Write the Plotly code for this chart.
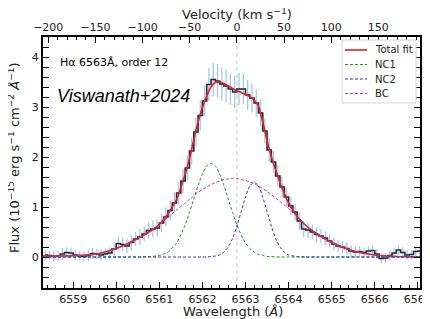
import plotly.graph_objects as go

# ---------------- data ----------------
wave_obs = [6558.35, 6558.45, 6558.55, 6558.65, 6558.75, 6558.85, 6558.95, 6559.05, 6559.15, 6559.25,
            6559.35, 6559.45, 6559.55, 6559.65, 6559.75, 6559.85, 6559.95, 6560.05, 6560.15, 6560.25,
            6560.35, 6560.45, 6560.55, 6560.65, 6560.75, 6560.85, 6560.95, 6561.05, 6561.15, 6561.25,
            6561.35, 6561.45, 6561.55, 6561.65, 6561.75, 6561.85, 6561.95, 6562.05, 6562.15, 6562.25,
            6562.35, 6562.45, 6562.55, 6562.65, 6562.75, 6562.85, 6562.95, 6563.05, 6563.15, 6563.25,
            6563.35, 6563.45, 6563.55, 6563.65, 6563.75, 6563.85, 6563.95, 6564.05, 6564.15, 6564.25,
            6564.35, 6564.45, 6564.55, 6564.65, 6564.75, 6564.85, 6564.95, 6565.05, 6565.15, 6565.25,
            6565.35, 6565.45, 6565.55, 6565.65, 6565.75, 6565.85, 6565.95, 6566.05, 6566.15, 6566.25,
            6566.35, 6566.45, 6566.55, 6566.65, 6566.75, 6566.85, 6566.95, 6567.05]
flux_obs = [0.04, 0.03, 0.01, 0.02, 0.06, 0.09, 0.08, 0.04, 0.02, 0.01,
            0.03, 0.07, 0.06, 0.04, 0.06, 0.08, 0.16, 0.27, 0.25, 0.22,
            0.29, 0.36, 0.40, 0.46, 0.53, 0.56, 0.58, 0.68, 0.80, 0.93,
            1.08, 1.28, 1.52, 1.78, 2.12, 2.50, 2.83, 3.12, 3.45, 3.55,
            3.52, 3.46, 3.42, 3.36, 3.30, 3.36, 3.36, 3.24, 3.18, 3.08,
            2.88, 2.52, 2.14, 1.90, 1.62, 1.40, 1.20, 1.02, 0.90, 0.72,
            0.56, 0.54, 0.50, 0.45, 0.42, 0.38, 0.32, 0.26, 0.22, 0.20,
            0.17, 0.12, 0.10, 0.11, 0.09, 0.12, 0.13, 0.06, -0.03, -0.02,
            0.03, 0.08, 0.14, 0.09, 0.04, 0.05, 0.11, 0.12]
flux_err = [0.10, 0.09, 0.10, 0.11, 0.12, 0.10, 0.11, 0.10, 0.09, 0.10,
            0.12, 0.11, 0.10, 0.11, 0.12, 0.12, 0.13, 0.14, 0.13, 0.14,
            0.15, 0.14, 0.16, 0.15, 0.16, 0.17, 0.17, 0.18, 0.19, 0.20,
            0.21, 0.22, 0.24, 0.25, 0.27, 0.28, 0.30, 0.31, 0.33, 0.34,
            0.34, 0.33, 0.33, 0.32, 0.32, 0.32, 0.31, 0.30, 0.29, 0.28,
            0.27, 0.25, 0.24, 0.22, 0.21, 0.20, 0.19, 0.18, 0.17, 0.17,
            0.16, 0.16, 0.15, 0.15, 0.14, 0.14, 0.13, 0.13, 0.12, 0.12,
            0.12, 0.11, 0.11, 0.11, 0.10, 0.10, 0.10, 0.10, 0.10, 0.09,
            0.10, 0.10, 0.09, 0.10, 0.10, 0.09, 0.10, 0.10]

wave_fit = [6558.3, 6558.8, 6559.3, 6559.6, 6560.0, 6560.3, 6560.6, 6560.8, 6561.0, 6561.2,
            6561.4, 6561.6, 6561.7, 6561.8, 6561.9, 6562.0, 6562.1, 6562.2, 6562.3, 6562.4,
            6562.5, 6562.6, 6562.7, 6562.8, 6562.9, 6563.0, 6563.1, 6563.2, 6563.3, 6563.4,
            6563.5, 6563.6, 6563.7, 6563.8, 6563.9, 6564.0, 6564.2, 6564.4, 6564.7, 6565.0,
            6565.3, 6565.6, 6566.0, 6566.5, 6567.1]
total_fit = [0.02, 0.02, 0.04, 0.07, 0.17, 0.28, 0.42, 0.52, 0.65, 0.86,
             1.15, 1.66, 1.97, 2.35, 2.70, 2.99, 3.22, 3.40, 3.49, 3.50,
             3.47, 3.42, 3.37, 3.32, 3.29, 3.25, 3.21, 3.14, 3.02, 2.70,
             2.33, 2.01, 1.74, 1.49, 1.27, 1.08, 0.81, 0.63, 0.44, 0.29,
             0.18, 0.10, 0.04, 0.01, 0.00]
nc1 = [0.00, 0.00, 0.00, 0.00, 0.00, 0.00, 0.00, 0.01, 0.03, 0.10,
       0.28, 0.64, 0.89, 1.16, 1.43, 1.66, 1.82, 1.87, 1.82, 1.66,
       1.43, 1.16, 0.89, 0.64, 0.44, 0.28, 0.17, 0.10, 0.05, 0.03,
       0.01, 0.01, 0.00, 0.00, 0.00, 0.00, 0.00, 0.00, 0.00, 0.00,
       0.00, 0.00, 0.00, 0.00, 0.00]
nc2 = [0.00, 0.00, 0.00, 0.00, 0.00, 0.00, 0.00, 0.00, 0.00, 0.00,
       0.00, 0.00, 0.00, 0.00, 0.00, 0.00, 0.00, 0.01, 0.02, 0.04,
       0.10, 0.20, 0.37, 0.62, 0.91, 1.20, 1.42, 1.50, 1.42, 1.20,
       0.91, 0.62, 0.37, 0.20, 0.10, 0.04, 0.01, 0.00, 0.00, 0.00,
       0.00, 0.00, 0.00, 0.00, 0.00]
bc = [0.01, 0.02, 0.04, 0.07, 0.17, 0.28, 0.42, 0.53, 0.65, 0.79,
      0.94, 1.08, 1.15, 1.22, 1.29, 1.35, 1.40, 1.45, 1.49, 1.52,
      1.55, 1.56, 1.57, 1.57, 1.55, 1.53, 1.50, 1.47, 1.42, 1.37,
      1.31, 1.25, 1.18, 1.11, 1.04, 0.97, 0.81, 0.63, 0.44, 0.29,
      0.18, 0.10, 0.04, 0.01, 0.00]

legend_names = ["Total fit", "NC1", "NC2", "BC"]

line_center = 6562.8
wave_range = [6558.3, 6567.05]
C_KMS = 299792.458
vel_range = [(w - line_center) / line_center * C_KMS for w in wave_range]

FONT = "DejaVu Sans"
OFF = 8                      # page body margin offset
W, H = 422, 311
ML, MR, MT, MB = 35, 10, 29, 31
PW, PH = W - ML - MR, H - MT - MB


def px(xp):
    """page x pixel -> paper coordinate"""
    return (xp - OFF - ML) / PW


def py(yp):
    """page y pixel -> paper coordinate"""
    return (H - MB - (yp - OFF)) / PH


COLORS = {"Total fit": "#e41e26", "NC1": "#1f8f1f", "NC2": "#2a2ad0", "BC": "#c030c0"}
DASH = "3px,2px"

fig = go.Figure()

# error bars (behind the data line)
fig.add_trace(go.Scatter(
    x=wave_obs, y=flux_obs, mode="markers",
    marker=dict(size=1, color="rgba(0,0,0,0)"),
    error_y=dict(type="data", array=flux_err, color="#9fc5df", thickness=1.2, width=0),
    showlegend=False, hoverinfo="skip"))
# observed spectrum (steps-mid)
fig.add_trace(go.Scatter(
    x=wave_obs, y=flux_obs, mode="lines",
    line=dict(color="#1d2b36", width=1.6, shape="hvh"),
    showlegend=False))
# fit and components
fig.add_trace(go.Scatter(x=wave_fit, y=total_fit, mode="lines", name="Total fit", showlegend=False,
                         line=dict(color=COLORS["Total fit"], width=1.6, shape="spline", smoothing=0.6)))
fig.add_trace(go.Scatter(x=wave_fit, y=nc1, mode="lines", name="NC1", showlegend=False,
                         line=dict(color=COLORS["NC1"], width=1, dash=DASH, shape="spline", smoothing=0.6)))
fig.add_trace(go.Scatter(x=wave_fit, y=nc2, mode="lines", name="NC2", showlegend=False,
                         line=dict(color=COLORS["NC2"], width=1, dash=DASH, shape="spline", smoothing=0.6)))
fig.add_trace(go.Scatter(x=wave_fit, y=bc, mode="lines", name="BC", showlegend=False,
                         line=dict(color=COLORS["BC"], width=1, dash=DASH, shape="spline", smoothing=0.6)))
# invisible trace to activate the top velocity axis
fig.add_trace(go.Scatter(x=vel_range, y=[None, None], xaxis="x2", mode="lines",
                         showlegend=False, hoverinfo="skip"))

fig.add_shape(type="line", xref="x", yref="paper", x0=line_center, x1=line_center, y0=0, y1=1,
              line=dict(color="#c8c8c8", width=1, dash="4px,3px"), layer="below")

# legend box (matplotlib style)
fig.add_shape(type="rect", xref="paper", yref="paper", x0=px(342), x1=px(416), y0=py(103), y1=py(40),
              line=dict(color="#d6d6d6", width=1), fillcolor="white", layer="above")
for i, name in enumerate(legend_names):
    yy = py(50 + 14.5 * i)
    fig.add_shape(type="line", xref="paper", yref="paper", x0=px(345), x1=px(367), y0=yy, y1=yy,
                  line=dict(color=COLORS[name], width=1.6 if i == 0 else 1,
                            dash="solid" if i == 0 else DASH), layer="above")
    fig.add_annotation(x=px(373), y=yy, xref="paper", yref="paper", xanchor="left", yanchor="middle",
                       text=name, showarrow=False, font=dict(family=FONT, size=10, color="#222"))

fig.add_annotation(x=px(58), y=py(62), xref="paper", yref="paper", xanchor="left", yanchor="middle",
                   text="Hα 6563Å, order 12", showarrow=False,
                   font=dict(family=FONT, size=11, color="black"))
fig.add_annotation(x=px(55), y=py(96), xref="paper", yref="paper", xanchor="left", yanchor="middle",
                   text="<i>Viswanath+2024</i>", showarrow=False,
                   font=dict(family="Liberation Sans", size=18, color="black"))

# axis titles
fig.add_annotation(x=px(233), y=py(311), xref="paper", yref="paper", xanchor="center", yanchor="middle",
                   text="Wavelength (<i>Å</i>)", showarrow=False, font=dict(family=FONT, size=13, color="#222"))
fig.add_annotation(x=px(237), y=py(14), xref="paper", yref="paper", xanchor="center", yanchor="middle",
                   text="Velocity (km s<sup>−1</sup>)", showarrow=False, font=dict(family=FONT, size=13, color="#222"))
fig.add_annotation(x=px(14), y=py(158), xref="paper", yref="paper", xanchor="center", yanchor="middle",
                   textangle=-90,
                   text="Flux (10<sup>−15</sup> erg s<sup>−1</sup> cm<sup>−2</sup> <i>Å</i><sup>−1</sup>)",
                   showarrow=False, font=dict(family=FONT, size=13, color="#222"))

axis_common = dict(showgrid=False, zeroline=False, showline=True, linecolor="black", linewidth=2,
                   ticks="inside", ticklen=6, tickwidth=1, tickcolor="black", automargin=False,
                   tickfont=dict(family=FONT, size=11, color="#222"))

fig.update_layout(
    width=W, height=H,
    margin=dict(l=ML, r=MR, t=MT, b=MB),
    paper_bgcolor="white", plot_bgcolor="white",
    font=dict(family=FONT, size=11, color="#222"),
    showlegend=False,
    xaxis=dict(range=wave_range, tick0=6559, dtick=1, mirror=True, ticklabeloverflow="allow",
               minor=dict(ticks="inside", ticklen=3, dtick=0.2, tick0=6559, tickcolor="black"),
               **axis_common),
    xaxis2=dict(range=vel_range, overlaying="x", side="top", tick0=0, dtick=50,
                minor=dict(ticks="inside", ticklen=3, dtick=10, tick0=0, tickcolor="black"),
                **axis_common),
    yaxis=dict(range=[-0.62, 4.4], tick0=0, dtick=1, mirror="allticks",
               minor=dict(ticks="inside", ticklen=3, dtick=0.2, tick0=0, tickcolor="black"),
               **axis_common),
)

fig.write_html("out.html")
